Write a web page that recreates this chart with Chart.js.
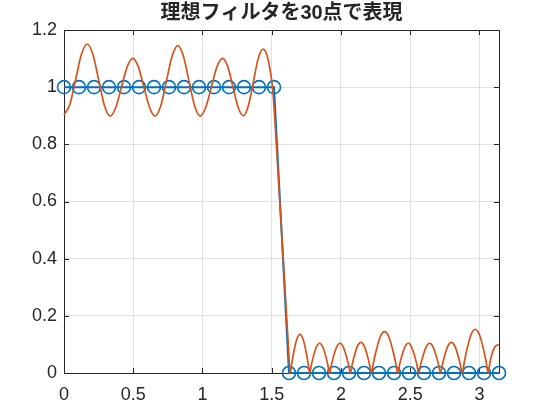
<!DOCTYPE html>
<html>
<head>
<meta charset="utf-8">
<script src="https://cdn.jsdelivr.net/npm/chart.js@4.4.0/dist/chart.umd.min.js"></script>
<style>
  html, body { margin: 0; padding: 0; background: #fff; }
  #wrap { width: 540px; height: 410px; }
</style>
</head>
<body>
<div id="wrap"><canvas id="chart" width="540" height="410"></canvas></div>
<script>
// sample points of the ideal filter (30 points, 0..pi)
const sampleW = [0, 0.1083, 0.2167, 0.3250, 0.4333, 0.5417, 0.6500, 0.7583, 0.8666, 0.9750,
    1.0833, 1.1916, 1.3000, 1.4083, 1.5166, 1.6250, 1.7333, 1.8416, 1.9500, 2.0583,
    2.1666, 2.2750, 2.3833, 2.4916, 2.6000, 2.7083, 2.8166, 2.9250, 3.0333, 3.1416];
const sampleH = [1, 1, 1, 1, 1, 1, 1, 1, 1, 1, 1, 1, 1, 1, 1,
    0, 0, 0, 0, 0, 0, 0, 0, 0, 0, 0, 0, 0, 0, 0];

// magnitude response
const respW = [0, 0.042, 0.084, 0.126, 0.168, 0.209, 0.2505, 0.292, 0.333, 0.374, 0.415, 0.456,
    0.497, 0.537, 0.5775, 0.618, 0.658, 0.699, 0.740, 0.781, 0.822, 0.862, 0.9025, 0.943,
    0.983, 1.0235, 1.064, 1.1045, 1.145, 1.183, 1.2205, 1.258, 1.296, 1.331, 1.3665, 1.402,
    1.437, 1.455, 1.475, 1.492, 1.508, 1.540, 1.571, 1.600, 1.622, 1.634,
    1.6457, 1.6573, 1.6807, 1.704, 1.7273, 1.7507, 1.7623, 1.774,
    1.786, 1.798, 1.822, 1.846, 1.870, 1.894, 1.906, 1.918,
    1.9305, 1.943, 1.968, 1.993, 2.018, 2.043, 2.0555, 2.068,
    2.0807, 2.0933, 2.1187, 2.144, 2.1693, 2.1947, 2.2073, 2.220,
    2.2358, 2.2517, 2.2833, 2.315, 2.3467, 2.3783, 2.3942, 2.410,
    2.4227, 2.4353, 2.4607, 2.486, 2.5113, 2.5367, 2.5493, 2.562,
    2.5751, 2.5882, 2.6143, 2.6405, 2.6667, 2.6928, 2.7059, 2.719,
    2.7321, 2.7452, 2.7713, 2.7975, 2.8237, 2.8498, 2.8629, 2.876,
    2.8917, 2.9073, 2.9387, 2.970, 3.0013, 3.0327, 3.0483, 3.064,
    3.0757, 3.087, 3.110, 3.1416];
const respMag = [0.903, 0.939, 1.027, 1.115, 1.151, 1.114, 1.025, 0.936, 0.899, 0.929, 1.000, 1.071,
    1.101, 1.071, 1.000, 0.929, 0.899, 0.935, 1.022, 1.109, 1.145, 1.109, 1.022, 0.935,
    0.899, 0.929, 1.000, 1.071, 1.101, 1.072, 1.000, 0.929, 0.900, 0.934, 1.016, 1.099,
    1.133, 1.125, 1.095, 1.050, 0.990, 0.750, 0.500, 0.260, 0.080, 0,
    0.035, 0.068, 0.117, 0.135, 0.117, 0.068, 0.035, 0,
    0.027, 0.052, 0.090, 0.104, 0.090, 0.052, 0.027, 0,
    0.027, 0.052, 0.090, 0.104, 0.090, 0.052, 0.027, 0,
    0.028, 0.0535, 0.093, 0.107, 0.093, 0.0535, 0.028, 0,
    0.038, 0.0725, 0.126, 0.145, 0.126, 0.0725, 0.038, 0,
    0.027, 0.052, 0.090, 0.104, 0.090, 0.052, 0.027, 0,
    0.027, 0.052, 0.090, 0.104, 0.090, 0.052, 0.027, 0,
    0.028, 0.0535, 0.093, 0.107, 0.093, 0.0535, 0.028, 0,
    0.040, 0.0765, 0.133, 0.153, 0.133, 0.0765, 0.040, 0,
    0.035, 0.060, 0.090, 0.100];

const xTicks = [0, 0.5, 1, 1.5, 2, 2.5, 3];
const yTicks = [0, 0.2, 0.4, 0.6, 0.8, 1, 1.2];

const titleText = '理想フィルタを30点で表現';
const fontFamily = '"Liberation Sans", Arial, "Noto Sans CJK JP", sans-serif';
const axisColor = '#262626';
const gridColor = '#dfdfdf';

// box round the axes with inward ticks, drawn under the data
const boxPlugin = {
    id: 'box',
    beforeDatasetsDraw(chart) {
        const ctx = chart.ctx;
        const a = chart.chartArea;
        const xs = chart.scales.x;
        const ys = chart.scales.y;
        const len = 5;
        ctx.save();
        ctx.strokeStyle = axisColor;
        ctx.lineWidth = 1;
        ctx.beginPath();
        ctx.rect(Math.round(a.left) + 0.5, Math.round(a.top) + 0.5,
            Math.round(a.right - a.left), Math.round(a.bottom - a.top));
        xTicks.forEach(function(v) {
            const px = Math.round(xs.getPixelForValue(v)) + 0.5;
            ctx.moveTo(px, a.bottom);
            ctx.lineTo(px, a.bottom - len);
            ctx.moveTo(px, a.top);
            ctx.lineTo(px, a.top + len);
        });
        yTicks.forEach(function(v) {
            const py = Math.round(ys.getPixelForValue(v)) + 0.5;
            ctx.moveTo(a.left, py);
            ctx.lineTo(a.left + len, py);
            ctx.moveTo(a.right, py);
            ctx.lineTo(a.right - len, py);
        });
        ctx.stroke();
        ctx.restore();
    },
    // title centred over the plot area, like MATLAB does it
    afterDraw(chart) {
        const ctx = chart.ctx;
        const a = chart.chartArea;
        ctx.save();
        ctx.fillStyle = axisColor;
        ctx.font = 'bold 20px ' + fontFamily;
        ctx.textAlign = 'center';
        ctx.textBaseline = 'middle';
        ctx.fillText(titleText, (a.left + a.right) / 2, 13);
        ctx.restore();
    }
};

document.addEventListener('DOMContentLoaded', function() {
    const ctx = document.getElementById('chart');

    new Chart(ctx, {
        type: 'line',
        data: {
            datasets: [{
                label: 'response',
                data: respW.map((w, i) => ({ x: w, y: respMag[i] })),
                borderColor: '#D95319',
                borderWidth: 1.7,
                pointRadius: 0,
                cubicInterpolationMode: 'monotone',
                clip: false,
                order: 1
            }, {
                label: 'samples',
                data: sampleW.map((w, i) => ({ x: w, y: sampleH[i] })),
                borderColor: '#0072BD',
                borderWidth: 2,
                pointRadius: 6.5,
                pointBorderWidth: 1.6,
                pointBackgroundColor: 'rgba(0,0,0,0)',
                pointBorderColor: '#0072BD',
                tension: 0,
                clip: false,
                order: 2
            }]
        },
        options: {
            responsive: false,
            animation: false,
            devicePixelRatio: 1,
            layout: { padding: { left: 0, right: 41, top: 30, bottom: 0 } },
            plugins: {
                legend: { display: false },
                tooltip: { enabled: false },
                title: { display: false }
            },
            scales: {
                x: {
                    type: 'linear',
                    min: 0,
                    max: 3.1416,
                    afterFit: function(scale) { scale.height = 37; },
                    afterBuildTicks: function(scale) {
                        scale.ticks = xTicks.map(v => ({ value: v }));
                    },
                    ticks: {
                        color: axisColor,
                        font: { family: fontFamily, size: 18 },
                        padding: 11,
                        maxRotation: 0,
                        callback: v => String(v)
                    },
                    grid: { color: gridColor, drawTicks: false },
                    border: { display: false }
                },
                y: {
                    min: 0,
                    max: 1.2,
                    afterFit: function(scale) { scale.width = 64; },
                    afterBuildTicks: function(scale) {
                        scale.ticks = yTicks.map(v => ({ value: v }));
                    },
                    ticks: {
                        color: axisColor,
                        font: { family: fontFamily, size: 18 },
                        padding: 7,
                        callback: v => String(v)
                    },
                    grid: { color: gridColor, drawTicks: false },
                    border: { display: false }
                }
            }
        },
        plugins: [boxPlugin]
    });
});
</script>
</body>
</html>
